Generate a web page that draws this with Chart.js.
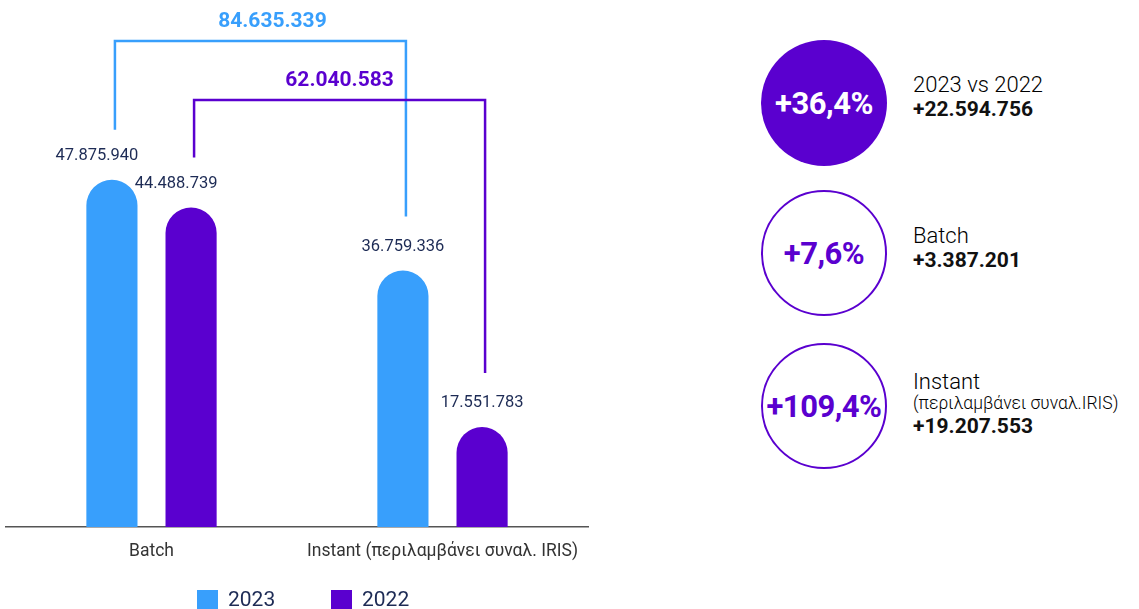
<!DOCTYPE html>
<html>
<head>
<meta charset="utf-8">
<script src="https://cdn.jsdelivr.net/npm/chart.js@4.4.0/dist/chart.umd.min.js"></script>
<style>
  html, body {
    margin: 0;
    padding: 0;
    background: #fff;
    width: 1139px;
    height: 609px;
    overflow: hidden;
    font-family: Roboto, sans-serif;
  }
  #chartBox { position: absolute; left: 0; top: 0; width: 600px; height: 609px; }
  .legend-item {
    position: absolute;
    top: 589px;
    display: flex;
    align-items: flex-start;
    font-size: 21px;
    line-height: 1;
    color: #1d2b55;
  }
  .swatch { width: 21px; height: 21px; margin-top: 1px; margin-right: 10px; }
  .circle {
    position: absolute;
    left: 761px;
    width: 126px;
    height: 126px;
    border-radius: 50%;
    box-sizing: border-box;
    display: flex;
    align-items: center;
    justify-content: center;
    font-weight: 700;
    font-size: 31px;
    letter-spacing: -0.5px;
  }
  .txt { position: absolute; left: 913px; line-height: 1; color: #111; white-space: nowrap; }
  .title { font-size: 22px; font-weight: 300; color: #000; }
  .note { font-size: 17.5px; font-weight: 300; color: #000; }
  .delta { font-size: 21px; font-weight: 700; }
</style>
</head>
<body>
<div id="chartBox"><canvas id="mainChart"></canvas></div>
<div id="legend"></div>
<div id="summary"></div>

<script>
// Data
const categories = ['Batch', 'Instant (περιλαμβάνει συναλ. IRIS)'];
const seriesNames = ['2023', '2022'];
const values2023 = [47875940, 36759336];
const values2022 = [44488739, 17551783];
const totals = ['84.635.339', '62.040.583'];

const pctLabels = ['+36,4%', '+7,6%', '+109,4%'];
const summaryTitles = ['2023 vs 2022', 'Batch', 'Instant'];
const summaryNotes = ['', '', '(περιλαμβάνει συναλ.IRIS)'];
const summaryDeltas = ['+22.594.756', '+3.387.201', '+19.207.553'];

const colors = ['#389ffc', '#5a00cf'];
const navy = '#1d2b55';

function fmt(v) {
    return v.toString().replace(/\B(?=(\d{3})+(?!\d))/g, '.');
}

// Value labels above the bars
const valueLabels = {
    id: 'valueLabels',
    afterDatasetsDraw(chart) {
        const ctx = chart.ctx;
        ctx.save();
        ctx.font = '16.5px Roboto, sans-serif';
        ctx.fillStyle = navy;
        ctx.textAlign = 'center';
        ctx.textBaseline = 'middle';
        chart.data.datasets.forEach((ds, i) => {
            chart.getDatasetMeta(i).data.forEach((bar, j) => {
                const shift = j === 0 ? -15 : 0;
                ctx.fillText(fmt(ds.data[j]), bar.x + shift, bar.y - 24);
            });
        });
        ctx.restore();
    }
};

// Brackets joining the two bars of each year, with the total on top
const brackets = {
    id: 'brackets',
    afterDatasetsDraw(chart) {
        const ctx = chart.ctx;
        const top = chart.chartArea.top;
        const levels = [top + 21, top + 80];
        ctx.save();
        chart.data.datasets.forEach((ds, i) => {
            const bars = chart.getDatasetMeta(i).data;
            const x1 = bars[0].x + 3;
            const x2 = bars[1].x + 3;
            const y = levels[i];
            ctx.strokeStyle = colors[i];
            ctx.lineWidth = 2.5;
            ctx.beginPath();
            ctx.moveTo(x1, bars[0].y - 50);
            ctx.lineTo(x1, y);
            ctx.lineTo(x2, y);
            ctx.lineTo(x2, bars[1].y - 54);
            ctx.stroke();

            ctx.fillStyle = colors[i];
            ctx.font = 'bold 21px Roboto, sans-serif';
            ctx.textAlign = 'center';
            ctx.textBaseline = 'middle';
            ctx.fillText(totals[i], (x1 + x2) / 2 + (i === 0 ? 12 : 0), y - 19);
        });
        ctx.restore();
    }
};

function createChart() {
    const ctx = document.getElementById('mainChart').getContext('2d');
    new Chart(ctx, {
        type: 'bar',
        data: {
            labels: categories,
            datasets: [
                { label: seriesNames[0], data: values2023, backgroundColor: colors[0] },
                { label: seriesNames[1], data: values2022, backgroundColor: colors[1] }
            ]
        },
        options: {
            responsive: true,
            maintainAspectRatio: false,
            animation: false,
            categoryPercentage: 0.544,
            barPercentage: 0.646,
            borderRadius: 40,
            borderSkipped: 'start',
            layout: { padding: { top: 20, left: 6, right: 12, bottom: 0 } },
            plugins: {
                legend: { display: false },
                tooltip: { enabled: false }
            },
            scales: {
                y: {
                    display: false,
                    min: 5300000,
                    max: 67480000
                },
                x: {
                    grid: { display: false, drawTicks: false },
                    border: { display: true, color: '#555', width: 1.5 },
                    ticks: {
                        color: '#333',
                        font: { size: 17.5, family: 'Roboto, sans-serif' },
                        padding: 14,
                        maxRotation: 0,
                        autoSkip: false
                    },
                    afterFit(scale) { scale.height = 82; }
                }
            }
        },
        plugins: [brackets, valueLabels]
    });
}

function buildLegend() {
    const lefts = [197, 331];
    const legend = document.getElementById('legend');
    seriesNames.forEach((name, i) => {
        const item = document.createElement('div');
        item.className = 'legend-item';
        item.style.left = lefts[i] + 'px';
        item.innerHTML = `<span class="swatch" style="background:${colors[i]}"></span><span>${name}</span>`;
        legend.appendChild(item);
    });
}

function buildSummary() {
    const circleTops = [40, 190, 343];
    const titleTops = [74, 225, 371];
    const box = document.getElementById('summary');
    pctLabels.forEach((pct, i) => {
        const c = document.createElement('div');
        c.className = 'circle';
        c.style.top = circleTops[i] + 'px';
        if (i === 0) {
            c.style.background = colors[1];
            c.style.color = '#fff';
        } else {
            c.style.border = '2.5px solid ' + colors[1];
            c.style.color = colors[1];
        }
        c.textContent = pct;
        box.appendChild(c);

        let y = titleTops[i];
        const t = document.createElement('div');
        t.className = 'txt title';
        t.style.top = y + 'px';
        t.textContent = summaryTitles[i];
        box.appendChild(t);
        y += 24;

        if (summaryNotes[i]) {
            const n = document.createElement('div');
            n.className = 'txt note';
            n.style.top = y + 'px';
            n.textContent = summaryNotes[i];
            box.appendChild(n);
            y += 20;
        }

        const d = document.createElement('div');
        d.className = 'txt delta';
        d.style.top = (y + 1) + 'px';
        d.textContent = summaryDeltas[i];
        box.appendChild(d);
    });
}

document.addEventListener('DOMContentLoaded', function() {
    buildLegend();
    buildSummary();
    createChart();
});
</script>
</body>
</html>
